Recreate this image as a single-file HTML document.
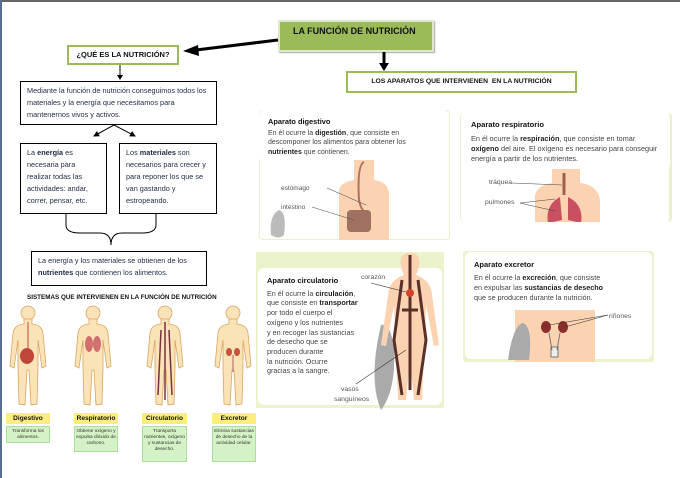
<!DOCTYPE html>
<html><head><meta charset="utf-8"><style>
body{margin:0;width:680px;height:478px;overflow:hidden;background:#fff;font-family:"Liberation Sans",sans-serif;position:relative}
.a{position:absolute;box-sizing:border-box}
.bx{border:1.5px solid #000;background:#fff;color:#1f2a44;font-size:7.3px;line-height:12px;padding:3px 6px}
.pn{border-radius:6px;background:#fff;font-size:7px;line-height:9.5px;color:#444;padding:6px 9px}
.pn b.t{color:#111;display:block;font-size:7.4px;margin-bottom:2px}
.pn b{color:#222}
.yl{background:#fbee7e;font-weight:bold;font-size:6.6px;text-align:center;line-height:11px;color:#111}
.gr{background:#d4f2c6;border:1px solid #a9df98;font-size:4.8px;text-align:center;line-height:6px;color:#333;padding-top:2px}
</style></head><body>
<div class="a" style="left:0;top:0;width:680px;height:2px;background:#666"></div>
<div class="a" style="left:0;top:0;width:2px;height:478px;background:#5a6e90"></div>

<div class="a" style="left:278px;top:20px;width:156px;height:32px;background:#9bbb59;border:2px solid #dfe8cf;box-shadow:1px 1px 1px #aaa;font-size:9px;font-weight:bold;color:#111;padding:4px 0 0 13px">LA FUNCIÓN DE NUTRICIÓN</div>
<div class="a" style="left:67px;top:45px;width:112px;height:20px;border:2px solid #9bbb59;font-size:7.5px;font-weight:bold;color:#111;text-align:center;line-height:16px">¿QUÉ ES LA NUTRICIÓN?</div>
<div class="a" style="left:346px;top:71px;width:231px;height:22px;border:2px solid #9bbb59;font-size:6.8px;font-weight:bold;color:#111;text-align:center;line-height:18px">LOS APARATOS QUE INTERVIENEN &nbsp;EN LA NUTRICIÓN</div>

<svg class="a" style="left:0;top:0" width="680" height="478">
<defs><marker id="m" markerWidth="6" markerHeight="6" refX="5" refY="3" orient="auto"><path d="M0,0L6,3L0,6z" fill="#000"/></marker></defs>
<line x1="278" y1="40" x2="196" y2="50" stroke="#000" stroke-width="3"/>
<path d="M183,51L198,45L199,56z" fill="#000"/>
<line x1="384" y1="52" x2="384" y2="64" stroke="#000" stroke-width="3"/>
<path d="M379,63L389,63L384,71z" fill="#000"/>
<line x1="120" y1="65" x2="120" y2="76" stroke="#000" stroke-width="1"/>
<path d="M117,75L123,75L120,80z" fill="#000"/>
<line x1="114" y1="125" x2="94" y2="136" stroke="#000" stroke-width="1" marker-end="url(#m)"/>
<line x1="114" y1="125" x2="135" y2="136" stroke="#000" stroke-width="1" marker-end="url(#m)"/>
<path d="M66,213 V225 Q66,233 80,233 H100 Q111,233 111,245 M156,213 V225 Q156,233 142,233 H122 Q111,233 111,245" fill="none" stroke="#000" stroke-width="1"/>
</svg>

<div class="a bx" style="left:20px;top:81px;width:197px;height:44px">Mediante la función de nutrición conseguimos todos los materiales y la energía que necesitamos para mantenernos vivos y activos.</div>
<div class="a bx" style="left:20px;top:143px;width:87px;height:71px">La <b>energía</b> es necesaria para realizar todas las actividades: andar, correr, pensar, etc.</div>
<div class="a bx" style="left:119px;top:143px;width:98px;height:71px">Los <b>materiales</b> son necesarios para crecer y para reponer los que se van gastando y estropeando.</div>
<div class="a bx" style="left:31px;top:251px;width:176px;height:35px">La energía y los materiales se obtienen de los <b>nutrientes</b> que contienen los alimentos.</div>

<div class="a" style="left:27px;top:294px;font-size:6.3px;font-weight:bold;color:#111">SISTEMAS QUE INTERVIENEN EN LA FUNCIÓN DE NUTRICIÓN</div>

<svg class="a" style="left:0;top:300px" width="260" height="115">
<defs><g id="bd"><circle cx="0" cy="13" r="7"/><path d="M-4,19 L-4,24 Q-14,25 -15,33 L-18,66 L-14,68 L-10,40 L-10,68 L-9,104 L-3,105 L-1,70 L1,70 L3,105 L9,104 L10,68 L10,40 L14,68 L18,66 L15,33 Q14,25 4,24 L4,19z"/></g></defs>
<g fill="#fbe3b8" stroke="#d9a560" stroke-width="0.8">
<use href="#bd" x="28"/><use href="#bd" x="93"/><use href="#bd" x="165"/><use href="#bd" x="233"/>
</g>
<ellipse cx="27" cy="56" rx="7" ry="8" fill="#c0463a"/><line x1="28" y1="22" x2="28" y2="48" stroke="#c0463a"/>
<ellipse cx="89" cy="44" rx="4" ry="8" fill="#d27070"/><ellipse cx="97" cy="44" rx="4" ry="8" fill="#d27070"/>
<path d="M165,22V100M161,30L158,95M169,30L172,95" stroke="#7a3040" stroke-width="1.5" fill="none"/>
<ellipse cx="229" cy="52" rx="3" ry="4" fill="#c9503a"/><ellipse cx="237" cy="52" rx="3" ry="4" fill="#c9503a"/><line x1="233" y1="55" x2="233" y2="72" stroke="#aa6666"/>
</svg>

<div class="a yl" style="left:6px;top:413px;width:44px;height:11px">Digestivo</div>
<div class="a yl" style="left:74px;top:413px;width:44px;height:11px">Respiratorio</div>
<div class="a yl" style="left:142px;top:413px;width:45px;height:11px">Circulatorio</div>
<div class="a yl" style="left:212px;top:413px;width:44px;height:11px">Excretor</div>
<div class="a gr" style="left:6px;top:426px;width:44px;height:17px">Transforma los alimentos.</div>
<div class="a gr" style="left:74px;top:426px;width:44px;height:26px">Obtiene oxígeno y expulsa dióxido de carbono.</div>
<div class="a gr" style="left:142px;top:426px;width:45px;height:36px">Transporta nutrientes, oxígeno y sustancias de desecho.</div>
<div class="a gr" style="left:212px;top:426px;width:44px;height:36px">Elimina sustancias de desecho de la actividad celular.</div>

<!-- right panels -->
<div class="a" style="left:259px;top:110px;width:191px;height:130px;border:1px solid #e9f0cc;border-radius:4px"></div>
<div class="a pn" style="left:259px;top:110px;width:190px;padding-top:7px"><b class="t">Aparato digestivo</b>En él ocurre la <b>digestión</b>, que consiste en descomponer los alimentos para obtener los <b>nutrientes</b> que contienen.</div>
<svg class="a" style="left:259px;top:160px" width="191" height="80">
<path d="M80,80 V30 Q82,22 95,20 V0 H115 V20 Q130,22 130,35 V80z" fill="#fcd3b0"/>
<path d="M12,75 Q10,55 20,50 Q28,52 25,75 Q20,80 12,75z" fill="#bbb"/>
<path d="M105,2 Q98,5 100,40 Q102,50 106,52" stroke="#b07060" stroke-width="2" fill="none"/>
<rect x="88" y="50" width="24" height="22" rx="4" fill="#a07060"/>
<line x1="68" y1="28" x2="107" y2="45" stroke="#555" stroke-width="0.6"/>
<line x1="53" y1="47" x2="95" y2="60" stroke="#555" stroke-width="0.6"/>
<text x="22" y="30" font-size="6.5" fill="#555" font-family="Liberation Sans">estómago</text>
<text x="22" y="49" font-size="6.5" fill="#555" font-family="Liberation Sans">intestino</text>
</svg>

<div class="a" style="left:460px;top:113px;width:212px;height:109px;border-left:1px solid #e9f0cc;border-right:3px solid #e9f0cc;border-radius:4px"></div>
<div class="a pn" style="left:462px;top:113px;width:208px;padding-top:7px;font-size:7.3px;line-height:10px"><b class="t" style="font-size:7.6px;margin-bottom:4px">Aparato respiratorio</b>En él ocurre la <b>respiración</b>, que consiste en tomar <b>oxígeno</b> del aire. El oxígeno es necesario para conseguir energía a partir de los nutrientes.</div>
<svg class="a" style="left:460px;top:165px" width="212" height="57">
<path d="M75,57 V30 Q78,20 92,18 V4 H120 V18 Q138,20 140,35 V57z" fill="#fcd3b0"/>
<path d="M104,8 V30" stroke="#a06050" stroke-width="3"/>
<path d="M100,32 Q85,40 88,58 L102,55z M108,32 Q124,40 121,58 L108,55z" fill="#c85060"/>
<line x1="52" y1="18" x2="102" y2="20" stroke="#444" stroke-width="0.6"/>
<line x1="60" y1="38" x2="95" y2="34" stroke="#444" stroke-width="0.6"/>
<line x1="60" y1="38" x2="95" y2="46" stroke="#444" stroke-width="0.6"/>
<text x="29" y="19" font-size="6.8" fill="#555" font-family="Liberation Sans">tráquea</text>
<text x="25" y="39" font-size="6.8" fill="#555" font-family="Liberation Sans">pulmones</text>
</svg>

<div class="a" style="left:256px;top:252px;width:188px;height:156px;background:#ebf3cd"></div>
<div class="a pn" style="left:258px;top:268px;width:184px;height:137px;padding-top:8px;font-size:7.2px;line-height:9.7px"><b class="t" style="font-size:7.5px;margin-bottom:3px">Aparato circulatorio</b>En él ocurre la <b>circulación</b>,<br>que consiste en <b>transportar</b><br>por todo el cuerpo el<br>oxígeno y los nutrientes<br>y en recoger las sustancias<br>de desecho que se<br>producen durante<br>la nutrición. Ocurre<br>gracias a la sangre.</div>
<svg class="a" style="left:256px;top:250px" width="190" height="160">
<path d="M125,160 Q112,130 125,75 Q135,72 138,100 Q140,140 125,160z" fill="#aaa"/>
<path d="M150,3 Q140,8 148,25 Q133,30 132,45 L125,95 L130,96 L138,55 L140,105 L142,150 L150,150 L154,110 L158,150 L166,150 L168,105 L170,55 L178,96 L183,95 L176,45 Q175,30 160,25 Q168,8 158,3z" fill="#fcd3b0"/>
<path d="M154,5 V140 M146,30 L138,90 L146,145 M162,30 L170,90 L162,145 M146,60 H162" stroke="#5a3028" stroke-width="3" fill="none"/>
<circle cx="226" cy="40" r="1" fill="#fff"/>
<circle cx="154" cy="43" r="4" fill="#d2452a"/>
<line x1="115" y1="33" x2="150" y2="42" stroke="#333" stroke-width="0.6"/>
<line x1="100" y1="134" x2="150" y2="100" stroke="#333" stroke-width="0.6"/>
<text x="105" y="29" font-size="6.8" fill="#555" font-family="Liberation Sans">corazón</text>
<text x="85" y="141" font-size="6.8" fill="#555" font-family="Liberation Sans">vasos</text>
<text x="78" y="151" font-size="6.8" fill="#555" font-family="Liberation Sans">sanguíneos</text>
</svg>

<div class="a" style="left:463px;top:251px;width:191px;height:111px;background:#ebf3cd;border-radius:3px"></div>
<div class="a pn" style="left:465px;top:252px;width:187px;height:107px;padding-top:8px;font-size:7.2px;line-height:10px"><b class="t" style="font-size:7.5px;margin-bottom:3px">Aparato excretor</b>En él ocurre la <b>excreción</b>, que consiste<br>en expulsar las <b>sustancias de desecho</b><br>que se producen durante la nutrición.</div>
<svg class="a" style="left:463px;top:305px" width="191" height="57">
<rect x="52" y="5" width="80" height="52" fill="#fcd3b0"/>
<path d="M45,55 Q50,20 60,18 Q70,22 66,55z" fill="#aaa"/>
<ellipse cx="83" cy="22" rx="5" ry="6" fill="#8a2d2d"/><ellipse cx="100" cy="22" rx="5" ry="6" fill="#8a2d2d"/>
<path d="M86,28 L89,45 M97,28 L94,45 M88,42 H95 V52 H88z" stroke="#777" stroke-width="1" fill="#eee"/>
<line x1="145" y1="10" x2="86" y2="20" stroke="#333" stroke-width="0.6"/>
<line x1="145" y1="10" x2="102" y2="22" stroke="#333" stroke-width="0.6"/>
<text x="146" y="13" font-size="6.8" fill="#555" font-family="Liberation Sans">riñones</text>
</svg>
</body></html>
